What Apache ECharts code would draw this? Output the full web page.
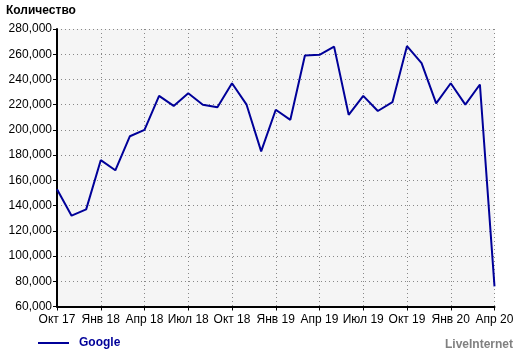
<!DOCTYPE html>
<html><head><meta charset="utf-8">
<script src="https://cdn.jsdelivr.net/npm/echarts@6/dist/echarts.min.js"></script>
<style>html,body{margin:0;padding:0;background:#fff}#c{width:520px;height:353px}</style>
</head><body><div id="c"></div>
<script>
const categories = ["Окт 17","Ноя 17","Дек 17","Янв 18","Фев 18","Мар 18","Апр 18","Май 18","Июн 18","Июл 18","Авг 18","Сен 18","Окт 18","Ноя 18","Дек 18","Янв 19","Фев 19","Мар 19","Апр 19","Май 19","Июн 19","Июл 19","Авг 19","Сен 19","Окт 19","Ноя 19","Дек 19","Янв 20","Фев 20","Мар 20","Апр 20"];
const googleValues = [153000,132000,137000,176000,168000,195000,200000,227000,219000,229000,220000,218000,237000,220000,183000,216000,208000,259000,259500,266000,212000,227000,215000,222000,266500,253000,221000,237000,220000,236000,76000];
const yMin = 60000, yMax = 280000, yStep = 20000;

const chart = echarts.init(document.getElementById('c'));
const font = 'Liberation Sans, Arial, sans-serif';
chart.setOption({
  animation: false,
  textStyle: {fontFamily: font},
  title: {text: 'Количество', left: 1, top: 0, textStyle: {fontSize: 12, fontWeight: 'bold', color: '#000', fontFamily: font}},
  legend: {
    data: ['Google'], left: 33, top: 332, icon: 'rect', itemWidth: 31, itemHeight: 2, itemGap: 8,
    textStyle: {fontSize: 12, fontWeight: 'bold', color: '#000099', fontFamily: font, padding: [0, 0, 0, 5]}
  },
  graphic: [{type: 'text', right: 7, top: 339, style: {text: 'LiveInternet', fontSize: 12, fontWeight: 'bold', fill: '#808080', fontFamily: font}}],
  grid: {left: 57, right: 25.5, top: 29, bottom: 46.5, show: true, backgroundColor: '#f5f5f5', borderWidth: 0},
  xAxis: {
    type: 'category', data: categories, boundaryGap: false,
    axisLine: {lineStyle: {color: '#000', width: 2}},
    axisTick: {show: true, interval: 2, length: 4, lineStyle: {color: '#000'}},
    axisLabel: {interval: 2, color: '#000', fontSize: 12, margin: 7, fontFamily: font},
    splitLine: {show: true, interval: 2, lineStyle: {color: '#888', type: [1, 3], width: 1}}
  },
  yAxis: {
    type: 'value', min: yMin, max: yMax, interval: yStep,
    axisLine: {show: true, lineStyle: {color: '#000', width: 2}},
    axisTick: {show: true, length: 4, lineStyle: {color: '#000'}},
    axisLabel: {color: '#000', fontSize: 12, margin: 5, fontFamily: font, formatter: v => v.toLocaleString('en-US')},
    splitLine: {show: true, lineStyle: {color: '#888', type: [1, 3], width: 1}}
  },
  series: [{
    name: 'Google', type: 'line', data: googleValues, showSymbol: false, symbol: 'none',
    lineStyle: {color: '#000099', width: 2}, itemStyle: {color: '#000099'}
  }]
});
</script></body></html>
